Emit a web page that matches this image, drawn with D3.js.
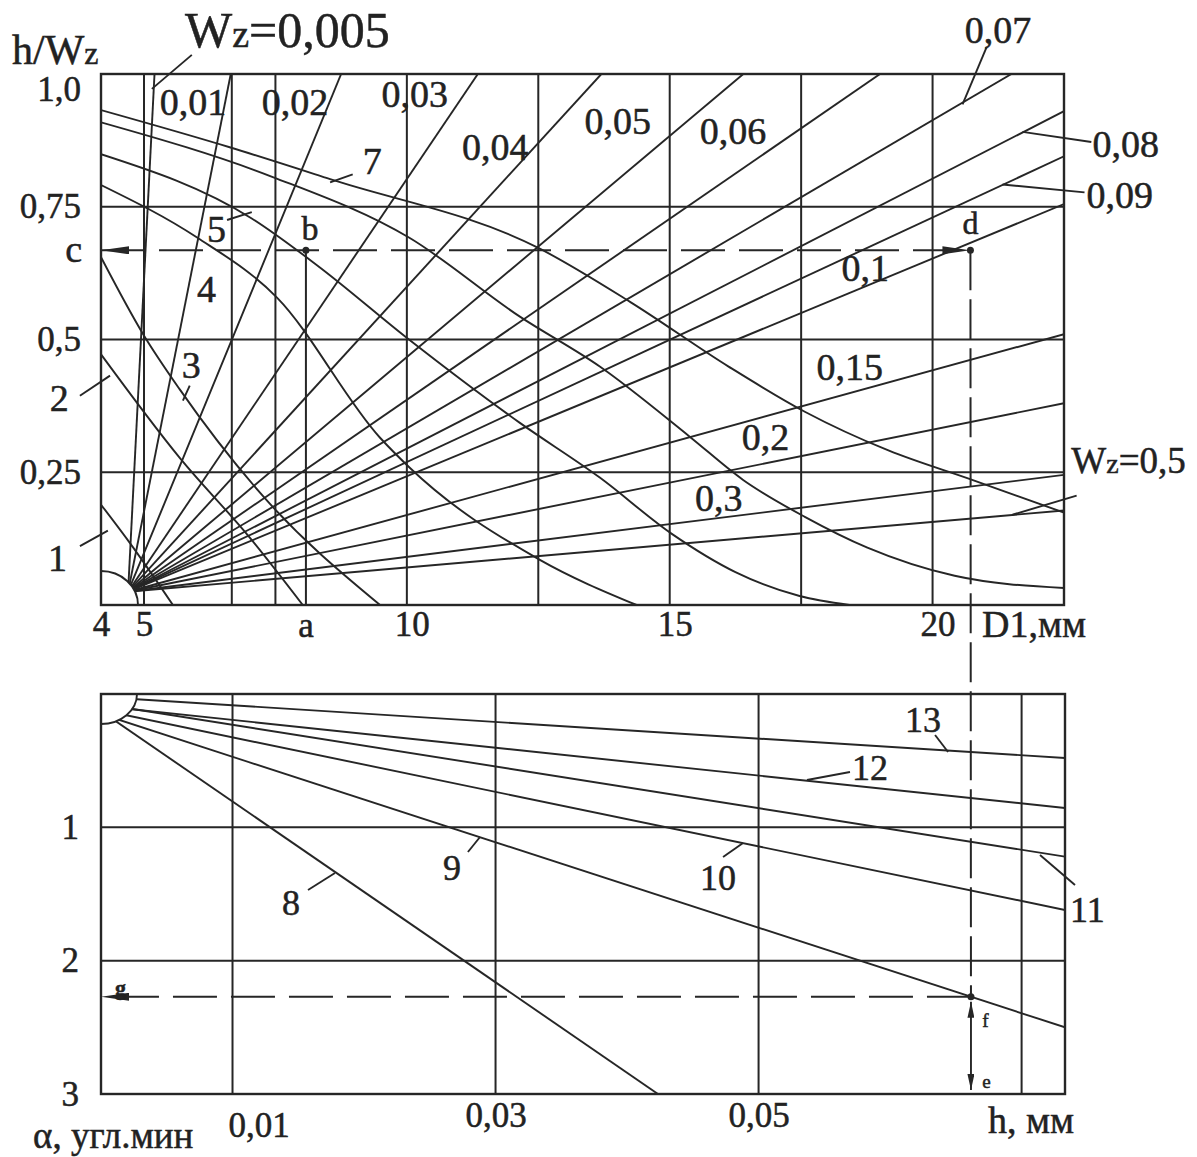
<!DOCTYPE html>
<html>
<head>
<meta charset="utf-8">
<script src="https://cdn.jsdelivr.net/npm/d3@7"></script>
<style>
  body { margin: 0; background: #fff; }
  svg { display: block; font-family: "Liberation Serif", "DejaVu Serif", serif; }
  .frame { fill: none; stroke: #262626; stroke-width: 2.4; }
  .grid { stroke: #262626; stroke-width: 2; }
  .ray, .curve, .leader { fill: none; stroke: #262626; stroke-width: 1.9; }
  .dash { stroke: #262626; stroke-width: 1.9; stroke-dasharray: 44 14; }
  .vdash { stroke: #262626; stroke-width: 2; stroke-dasharray: 40 9; }
  text { fill: #222; stroke: #222; stroke-width: 0.5; }
</style>
</head>
<body>
<div id="chart"></div>
<script>
// ---- upper nomogram: h/Wz against D1 ----
let d1Ticks = [4, 5, 10, 15, 20];
let d1Grid = [5, 6.67, 7.5, 10, 12.5, 15, 17.5, 20];
let hwTicks = [0.25, 0.5, 0.75, 1.0];
let hwGrid = [0.25, 0.5, 0.75];

// Wz rays, they all leave the pole in the lower left corner
let wzValues = ['0,005', '0,01', '0,02', '0,03', '0,04', '0,05', '0,06', '0,07', '0,08', '0,09', '0,1', '0,15', '0,2', '0,3', '0,5'];
let wzEndD1 = [5.2, 6.65, 8.75, 11.35, 13.7, 16.4, 19.0, 21.5, 22.5, 22.5, 22.5, 22.5, 22.5, 22.5, 22.5];
let wzEndHw = [1, 1, 1, 1, 1, 1, 1, 1, 0.93, 0.845, 0.755, 0.51, 0.38, 0.245, 0.178];
let rayPole = [4.63, 0.025];

// descending curves 1..7 as [D1, h/Wz]
let curve1 = [[4, 0.189], [4.67, 0.117], [5.55, 0]];
let curve2 = [[4, 0.472], [5.68, 0.277], [7.02, 0.126], [8.02, 0]];
let curve3 = [[4, 0.655], [4.98, 0.51], [5.68, 0.406], [7.21, 0.211], [9.49, 0]];
let curve4 = [[4, 0.791], [6.01, 0.692], [7.53, 0.579], [9.49, 0.315], [10.06, 0.258], [12.53, 0.085], [14.37, 0]];
let curve5 = [[4, 0.849], [7.05, 0.728], [8.29, 0.64], [10.04, 0.5], [12.15, 0.343], [13.67, 0.24], [15.04, 0.134], [16.25, 0.062], [17.47, 0.017], [18.42, 0]];
let curve6 = [[4, 0.909], [7.45, 0.806], [10.04, 0.692], [12.15, 0.543], [13.67, 0.449], [15.38, 0.317], [16.39, 0.236], [17.57, 0.166], [18.76, 0.108], [20.42, 0.055], [22.5, 0.032]];
let curve7 = [[4, 0.932], [6.63, 0.862], [8.54, 0.802], [12.51, 0.672], [14.26, 0.57], [16.12, 0.449], [17.57, 0.364], [19.16, 0.291], [20.74, 0.236], [22.5, 0.174]];

// ---- lower nomogram: alpha against h ----
let hTicks = [0.01, 0.03, 0.05];
let hGrid = [0.01, 0.03, 0.05, 0.07];
let alphaTicks = [1, 2, 3];
let alphaGrid = [1, 2];
let lineNames = ['8', '9', '10', '11', '12', '13'];
let lineStartAlpha = [0.128, 0.15, 0.12, 0.075, 0.09, 0.022];
let lineEndH = [0.04235, 0.0733, 0.0733, 0.0733, 0.0733, 0.0733];
let lineEndAlpha = [3.0, 2.5, 1.62, 1.22, 0.855, 0.48];

// worked example a-b-c-d-e-f-g
let exampleA = 8.08;
let exampleC = 0.668;
let exampleD = 20.72;
let exampleE = 0.06615;

let svg = d3.select('#chart').append('svg')
   .attr('width', 1197)
   .attr('height', 1157);
svg.append('rect').attr('width', 1197).attr('height', 1157).attr('fill', '#fff');

let xTop = d3.scaleLinear().domain([4, 5, 22.5]).range([101, 144, 1064]);
let yTop = d3.scaleLinear().domain([0, 1]).range([605, 74]);
let xBot = d3.scaleLinear().domain([0, 0.0733]).range([101, 1065]);
let yBot = d3.scaleLinear().domain([0, 3]).range([694, 1094]);

let defs = svg.append('defs');
function arrowMarker(id, len, half) {
   defs.append('marker')
      .attr('id', id)
      .attr('viewBox', '0 0 ' + len + ' ' + (half * 2))
      .attr('refX', len).attr('refY', half)
      .attr('markerWidth', len).attr('markerHeight', half * 2)
      .attr('markerUnits', 'userSpaceOnUse')
      .attr('orient', 'auto-start-reverse')
      .append('path')
      .attr('d', 'M0,0L' + len + ',' + half + 'L0,' + (half * 2) + 'Z')
      .attr('fill', '#262626');
}
arrowMarker('arrowBig', 28, 4);
arrowMarker('arrowSmall', 16, 3.5);

function comma(d) {
   return d === 1 ? '1,0' : String(d).replace('.', ',');
}

function label(g, txt, x, y, size, anchor) {
   return g.append('text')
      .attr('x', x).attr('y', y)
      .attr('font-size', size)
      .attr('text-anchor', anchor || 'start')
      .text(txt);
}

function leader(g, x1, y1, x2, y2) {
   g.append('line').attr('class', 'leader')
      .attr('x1', x1).attr('y1', y1).attr('x2', x2).attr('y2', y2);
}

// ===== upper chart =====
let gTop = svg.append('g');
defs.append('clipPath').attr('id', 'clipTop').append('rect')
   .attr('x', xTop(4)).attr('y', yTop(1))
   .attr('width', xTop(22.5) - xTop(4)).attr('height', yTop(0) - yTop(1));

gTop.selectAll('.vgrid').data(d1Grid).enter().append('line')
   .attr('class', 'grid')
   .attr('x1', d => xTop(d)).attr('x2', d => xTop(d))
   .attr('y1', yTop(0)).attr('y2', yTop(1));
gTop.selectAll('.hgrid').data(hwGrid).enter().append('line')
   .attr('class', 'grid')
   .attr('x1', xTop(4)).attr('x2', xTop(22.5))
   .attr('y1', d => yTop(d)).attr('y2', d => yTop(d));

let plotTop = gTop.append('g').attr('clip-path', 'url(#clipTop)');
let lineTop = d3.line().x(d => xTop(d[0])).y(d => yTop(d[1]));
let rays = wzEndD1.map((d, i) => [rayPole, [d, wzEndHw[i]]]);
plotTop.selectAll('.ray').data(rays).enter().append('path')
   .attr('class', 'ray')
   .attr('d', lineTop);

let curveTop = d3.line().x(d => xTop(d[0])).y(d => yTop(d[1])).curve(d3.curveMonotoneX);
let curves = [curve1, curve2, curve3, curve4, curve5, curve6, curve7];
plotTop.selectAll('.curve').data(curves).enter().append('path')
   .attr('class', 'curve')
   .attr('d', curveTop);

// quarter circle round the pole
let cx = xTop(4), cy = yTop(0);
gTop.append('path').attr('d', `M${cx},${cy - 34} A37,34 0 0 1 ${cx + 37},${cy} L${cx},${cy} Z`).attr('fill', '#fff');
gTop.append('path').attr('class', 'ray').attr('d', `M${cx},${cy - 34} A37,34 0 0 1 ${cx + 37},${cy}`);

// example: b -> a (solid), c <- b -> d (dashed)
gTop.append('line').attr('class', 'grid')
   .attr('x1', xTop(exampleA)).attr('x2', xTop(exampleA))
   .attr('y1', yTop(exampleC)).attr('y2', yTop(0));
gTop.append('line').attr('class', 'dash')
   .attr('x1', xTop(4)).attr('x2', xTop(exampleD))
   .attr('y1', yTop(exampleC)).attr('y2', yTop(exampleC))
   .attr('marker-start', 'url(#arrowBig)')
   .attr('marker-end', 'url(#arrowBig)');

gTop.append('rect').attr('class', 'frame')
   .attr('x', xTop(4)).attr('y', yTop(1))
   .attr('width', xTop(22.5) - xTop(4)).attr('height', yTop(0) - yTop(1));

// axes
let axTopY = gTop.append('g')
   .attr('transform', 'translate(' + xTop(4) + ',0)')
   .call(d3.axisLeft(yTop).tickValues(hwTicks).tickSize(0).tickPadding(20).tickFormat(comma));
let axTopX = gTop.append('g')
   .attr('transform', 'translate(0,' + yTop(0) + ')')
   .call(d3.axisBottom(xTop).tickValues(d1Ticks).tickSize(0).tickPadding(6).tickFormat(d => d));
[axTopY, axTopX].forEach(ax => {
   ax.select('.domain').remove();
   ax.selectAll('text').attr('font-size', 35).attr('fill', '#222').attr('stroke', '#222').attr('stroke-width', 0.5)
      .attr('font-family', '"Liberation Serif", serif');
});
axTopY.selectAll('.tick text').filter(d => d === 1).attr('dy', '0.75em');
axTopX.selectAll('.tick text').filter(d => d >= 10).attr('dx', 5);

// titles and example letters
let hw = gTop.append('text').attr('x', 12).attr('y', 64).attr('font-size', 42);
hw.append('tspan').text('h/W');
hw.append('tspan').attr('font-size', 32).text('z');
label(gTop, 'D1,мм', 982, 637, 38);
label(gTop, 'c', 82, yTop(exampleC) + 12, 38, 'end');
label(gTop, 'a', xTop(exampleA), yTop(0) + 32, 35, 'middle');
label(gTop, 'b', xTop(exampleA) + 4, yTop(exampleC) - 10, 34, 'middle');
label(gTop, 'd', xTop(exampleD), yTop(exampleC) - 16, 32, 'middle');
gTop.append('circle').attr('cx', xTop(exampleA)).attr('cy', yTop(exampleC)).attr('r', 3.5).attr('fill', '#262626');
gTop.append('circle').attr('cx', xTop(exampleD)).attr('cy', yTop(exampleC)).attr('r', 3.5).attr('fill', '#262626');

// Wz labels
let big = gTop.append('text').attr('x', xTop(5.78)).attr('y', yTop(1.051)).attr('font-size', 50);
big.append('tspan').text('W');
big.append('tspan').attr('font-size', 38).text('z');
big.append('tspan').text('=0,005');
leader(gTop, xTop(5.91), yTop(1.036), xTop(5.15), yTop(0.972));

let rayLabelAt = {
   '0,01': [5.3, 0.923], '0,02': [7.24, 0.923], '0,03': [9.52, 0.938], '0,04': [11.05, 0.838],
   '0,05': [13.38, 0.887], '0,06': [15.57, 0.868], '0,07': [20.61, 1.058], '0,08': [23.04, 0.843],
   '0,09': [22.93, 0.747], '0,1': [18.27, 0.611], '0,15': [17.79, 0.423], '0,2': [16.37, 0.291],
   '0,3': [15.48, 0.177]
};
wzValues.forEach(v => {
   if (rayLabelAt[v]) label(gTop, v, xTop(rayLabelAt[v][0]), yTop(rayLabelAt[v][1]), 38);
});
leader(gTop, xTop(21.03), yTop(1.051), xTop(20.57), yTop(0.943));
leader(gTop, xTop(23.02), yTop(0.872), xTop(21.71), yTop(0.891));
leader(gTop, xTop(22.89), yTop(0.777), xTop(21.33), yTop(0.792));
let half = gTop.append('text').attr('x', xTop(22.64)).attr('y', yTop(0.249)).attr('font-size', 37);
half.append('tspan').text('W');
half.append('tspan').attr('font-size', 28).text('z');
half.append('tspan').text('=0,5');
leader(gTop, xTop(22.74), yTop(0.206), xTop(21.52), yTop(0.17));

// curve numbers
label(gTop, '7', xTop(9.16), yTop(0.811), 38);
leader(gTop, xTop(8.97), yTop(0.811), xTop(8.54), yTop(0.796));
label(gTop, '5', xTop(6.2), yTop(0.683), 38);
leader(gTop, xTop(6.58), yTop(0.725), xTop(7.05), yTop(0.74));
label(gTop, '4', xTop(6.01), yTop(0.57), 38);
label(gTop, '3', xTop(5.72), yTop(0.428), 38);
leader(gTop, xTop(5.87), yTop(0.413), xTop(5.74), yTop(0.385));
label(gTop, '2', xTop(2.81), yTop(0.366), 38);
leader(gTop, xTop(3.51), yTop(0.394), xTop(4.21), yTop(0.432));
label(gTop, '1', xTop(2.77), yTop(0.064), 38);
leader(gTop, xTop(3.51), yTop(0.111), xTop(4.16), yTop(0.14));

// ===== lower chart =====
let gBot = svg.append('g');
defs.append('clipPath').attr('id', 'clipBot').append('rect')
   .attr('x', xBot(0)).attr('y', yBot(0))
   .attr('width', xBot(0.0733) - xBot(0)).attr('height', yBot(3) - yBot(0));

gBot.selectAll('.vgrid').data(hGrid).enter().append('line')
   .attr('class', 'grid')
   .attr('x1', d => xBot(d)).attr('x2', d => xBot(d))
   .attr('y1', yBot(0)).attr('y2', yBot(3));
gBot.selectAll('.hgrid').data(alphaGrid).enter().append('line')
   .attr('class', 'grid')
   .attr('x1', xBot(0)).attr('x2', xBot(0.0733))
   .attr('y1', d => yBot(d)).attr('y2', d => yBot(d));

let lineBot = d3.line().x(d => xBot(d[0])).y(d => yBot(d[1]));
let fan = lineNames.map((n, i) => [[0, lineStartAlpha[i]], [lineEndH[i], lineEndAlpha[i]]]);
gBot.append('g').attr('clip-path', 'url(#clipBot)')
   .selectAll('.ray').data(fan).enter().append('path')
   .attr('class', 'ray')
   .attr('d', lineBot);

let bx = xBot(0), by = yBot(0);
gBot.append('path').attr('d', `M${bx},${by + 30} A36,30 0 0 0 ${bx + 36},${by} L${bx},${by} Z`).attr('fill', '#fff');
gBot.append('path').attr('class', 'ray').attr('d', `M${bx},${by + 30} A36,30 0 0 0 ${bx + 36},${by}`);

// point f lies on line 9 at h = e
let fAlpha = lineStartAlpha[1] + (lineEndAlpha[1] - lineStartAlpha[1]) * exampleE / lineEndH[1];

// d -> f vertical (dashed), f -> e (solid), f -> g (dashed)
svg.append('line').attr('class', 'vdash')
   .attr('x1', xTop(exampleD)).attr('y1', yTop(exampleC))
   .attr('x2', xBot(exampleE)).attr('y2', yBot(fAlpha));
gBot.append('line').attr('class', 'ray')
   .attr('x1', xBot(exampleE)).attr('y1', yBot(fAlpha) + 5)
   .attr('x2', xBot(exampleE)).attr('y2', yBot(3) - 4)
   .attr('marker-start', 'url(#arrowSmall)')
   .attr('marker-end', 'url(#arrowSmall)');
gBot.append('line').attr('class', 'dash')
   .attr('x1', xBot(exampleE)).attr('y1', yBot(fAlpha))
   .attr('x2', xBot(0)).attr('y2', yBot(fAlpha))
   .attr('marker-end', 'url(#arrowBig)');
gBot.append('circle').attr('cx', xBot(exampleE)).attr('cy', yBot(fAlpha)).attr('r', 3.5).attr('fill', '#262626');

gBot.append('rect').attr('class', 'frame')
   .attr('x', xBot(0)).attr('y', yBot(0))
   .attr('width', xBot(0.0733) - xBot(0)).attr('height', yBot(3) - yBot(0));

let axBotY = gBot.append('g')
   .attr('transform', 'translate(' + xBot(0) + ',0)')
   .call(d3.axisLeft(yBot).tickValues(alphaTicks).tickSize(0).tickPadding(22).tickFormat(d => d));
let axBotX = gBot.append('g')
   .attr('transform', 'translate(0,' + yBot(3) + ')')
   .call(d3.axisBottom(xBot).tickValues(hTicks).tickSize(0).tickPadding(8).tickFormat(comma));
[axBotY, axBotX].forEach(ax => {
   ax.select('.domain').remove();
   ax.selectAll('text').attr('font-size', 35).attr('fill', '#222').attr('stroke', '#222').attr('stroke-width', 0.5)
      .attr('font-family', '"Liberation Serif", serif');
});
axBotX.selectAll('.tick text').filter(d => d === 0.01).attr('dx', 26).attr('dy', '1.0em');

label(gBot, 'h, мм', 988, 1133, 38);
label(gBot, 'α, угл.мин', 33, 1148, 37);

label(gBot, 'g', xBot(0.00106), yBot(2.258), 22).attr('font-weight', 'bold');
label(gBot, 'f', xBot(0.067), yBot(2.4975), 19);
label(gBot, 'e', xBot(0.067), yBot(2.955), 19);

label(gBot, '8', xBot(0.01376), yBot(1.658), 36);
leader(gBot, xBot(0.01574), yBot(1.47), xBot(0.01779), yBot(1.3425));
label(gBot, '9', xBot(0.026), yBot(1.395), 36);
leader(gBot, xBot(0.0279), yBot(1.185), xBot(0.02882), yBot(1.0725));
label(gBot, '10', xBot(0.04555), yBot(1.47), 36);
leader(gBot, xBot(0.0473), yBot(1.2225), xBot(0.04882), yBot(1.1175));
label(gBot, '11', xBot(0.07368), yBot(1.71), 36);
leader(gBot, xBot(0.07406), yBot(1.4325), xBot(0.0714), yBot(1.2075));
label(gBot, '12', xBot(0.0571), yBot(0.645), 36);
leader(gBot, xBot(0.05695), yBot(0.585), xBot(0.05368), yBot(0.645));
label(gBot, '13', xBot(0.06114), yBot(0.285), 36);
leader(gBot, xBot(0.06342), yBot(0.3075), xBot(0.06441), yBot(0.435));
</script>
</body>
</html>
